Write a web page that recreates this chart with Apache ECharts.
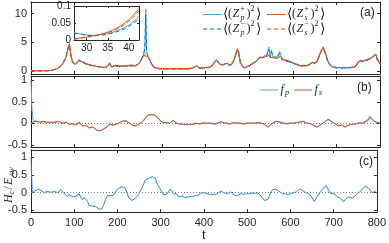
<!DOCTYPE html>
<html>
<head>
<meta charset="utf-8">
<script src="https://cdn.jsdelivr.net/npm/echarts@6/dist/echarts.min.js"></script>
<style>html,body{margin:0;padding:0;background:#fff}#c{width:389px;height:243px}</style>
</head>
<body>
<div id="c"></div>
<script>
// ---------- panel (a) ----------
const tA = [0,10,20,30,40,45,50,55,60,65,
70,75,80,85,88,91,95,100,105,110,
115,120,125,130,140,150,160,170,175,180,
185,190,200,210,220,230,240,245,250,255,
258,261,263,265,268,272,276,280,285,290,
300,310,320,330,340,350,360,370,375,380,
385,390,400,410,415,420,425,430,435,440,
445,450,455,460,465,470,473,476,480,485,
490,500,510,520,525,530,535,540,545,548,
551,555,560,565,570,575,580,590,600,610,
620,630,640,645,650,655,660,665,670,675,
680,685,690,700,710,720,730,740,745,750,
755,760,765,770,775,780,785,790,795,800];
const zpPlus = [0.05,0.05,0.05,0.05,0.07,0.11,0.18,0.28,0.42,0.65,
0.95,1.5,2.3,3.8,4.7,3.1,1.7,1.2,1.3,1.9,
1.7,1.5,1.3,1.2,1.0,0.8,0.7,0.6,0.75,1.2,
0.7,0.85,0.95,0.8,0.85,1.0,0.9,1.1,1.5,2.3,
2.8,4.0,10.8,3.5,2.6,2.1,1.3,0.8,0.55,0.45,
0.4,0.35,0.4,0.35,0.4,0.35,0.4,0.45,0.65,0.9,
0.55,0.5,0.55,0.65,0.85,1.5,1.9,1.4,1.1,1.0,
1.2,1.3,0.95,1.1,1.8,2.9,3.8,3.2,1.5,0.75,
0.55,0.85,1.3,1.9,2.4,2.2,2.7,2.6,4.2,2.5,
3.7,2.4,2.5,2.6,3.4,2.2,1.9,1.7,1.4,1.05,
0.85,0.9,1.1,1.5,1.3,1.5,2.4,3.4,4.1,3.1,
1.8,1.1,0.75,0.6,0.55,0.55,0.6,0.65,0.85,1.5,
1.7,1.6,1.8,1.9,2.0,2.2,2.5,2.9,1.9,1.2];
const zpMinus = [0.05,0.05,0.05,0.05,0.07,0.12,0.2,0.3,0.44,0.68,
1.0,1.55,2.5,3.9,4.5,2.9,1.6,1.3,1.4,1.8,
1.6,1.4,1.25,1.1,0.95,0.8,0.72,0.62,0.85,1.1,
0.75,0.95,0.8,0.85,0.95,0.85,0.95,1.2,1.6,2.4,
2.9,3.9,9.8,3.3,2.5,1.9,1.2,0.75,0.5,0.42,
0.38,0.4,0.36,0.4,0.36,0.4,0.36,0.5,0.75,0.85,
0.5,0.52,0.6,0.7,0.95,1.4,1.8,1.35,1.05,1.1,
1.3,1.2,1.05,1.2,1.9,3.1,3.6,2.9,1.3,0.7,
0.55,0.95,1.4,2.0,2.3,2.4,2.3,2.6,3.8,2.4,
3.4,2.4,2.2,2.3,3.1,2.0,1.8,1.6,1.35,1.15,
0.95,0.85,1.2,1.45,1.4,1.6,2.6,3.5,3.9,2.9,
1.7,1.05,0.7,0.55,0.6,0.55,0.55,0.7,0.95,1.6,
1.8,1.7,1.9,1.8,2.1,2.3,2.6,2.7,1.7,1.15];
const zsPlus = [0.05,0.05,0.05,0.06,0.08,0.12,0.2,0.3,0.45,0.7,
1.0,1.6,2.4,4.0,4.8,3.0,1.6,1.2,1.4,2.0,
1.7,1.6,1.4,1.2,1.0,0.85,0.7,0.6,0.8,1.5,
0.7,0.9,1.0,0.8,0.9,1.1,0.9,1.2,1.6,2.2,
2.7,3.0,2.6,2.8,2.5,2.2,1.4,0.9,0.6,0.5,
0.45,0.4,0.45,0.4,0.45,0.4,0.45,0.5,0.7,1.0,
0.6,0.5,0.6,0.7,0.9,1.6,2.0,1.5,1.2,1.1,
1.3,1.4,1.0,1.2,1.9,3.0,3.9,3.3,1.6,0.8,
0.6,0.9,1.4,2.0,2.5,2.3,2.6,2.5,2.8,2.4,
2.6,2.3,2.5,2.2,2.6,2.3,2.0,1.8,1.5,1.1,
0.9,0.95,1.2,1.6,1.4,1.6,2.5,3.5,4.2,3.2,
1.9,1.2,0.8,0.65,0.6,0.6,0.65,0.7,0.9,1.6,
1.8,1.7,1.9,2.0,2.1,2.3,2.6,3.0,2.0,1.3];
const zsMinus = [0.05,0.05,0.05,0.06,0.09,0.13,0.22,0.32,0.5,0.75,
1.1,1.7,2.6,4.2,4.6,2.8,1.5,1.3,1.5,1.9,
1.6,1.5,1.3,1.1,0.95,0.8,0.75,0.65,0.9,1.3,
0.8,1.0,0.8,0.9,1.0,0.9,1.0,1.3,1.7,2.4,
2.9,2.8,2.7,2.6,2.6,2.0,1.3,0.8,0.55,0.45,
0.4,0.45,0.4,0.45,0.4,0.45,0.4,0.55,0.8,0.9,
0.55,0.55,0.65,0.75,1.0,1.5,1.9,1.4,1.1,1.2,
1.4,1.3,1.1,1.3,2.0,3.2,3.7,3.0,1.4,0.75,
0.6,1.0,1.5,2.1,2.4,2.5,2.4,2.7,2.6,2.5,
2.4,2.5,2.3,2.4,2.5,2.1,1.9,1.7,1.4,1.2,
1.0,0.9,1.3,1.5,1.5,1.7,2.7,3.6,4.0,3.0,
1.8,1.1,0.75,0.6,0.65,0.6,0.6,0.75,1.0,1.7,
1.9,1.8,2.0,1.9,2.2,2.4,2.7,2.8,1.8,1.2];
const ticksA = [0,5,10];

// ---------- inset ----------
const tIn = [27,28,29,30,31,32,33,34,35,36,37,38,39,40,41,42,42.4];
const zpPlusIn = [0.021,0.019,0.017,0.015,0.014,0.014,0.015,0.017,0.019,0.022,0.026,0.031,0.037,0.044,0.053,0.064,0.07];
const zpMinusIn = [0.02,0.018,0.016,0.014,0.013,0.013,0.014,0.015,0.017,0.02,0.024,0.028,0.033,0.04,0.048,0.058,0.064];
const zsPlusIn = [0.003,0.005,0.007,0.009,0.011,0.013,0.016,0.019,0.023,0.028,0.034,0.041,0.05,0.06,0.072,0.086,0.093];
const zsMinusIn = [0.002,0.004,0.006,0.008,0.01,0.012,0.015,0.018,0.021,0.026,0.031,0.038,0.046,0.055,0.066,0.079,0.086];
const ticksInX = [30,35,40];
const ticksInY = [0,0.05,0.1];

// ---------- panel (b) ----------
const tB = [0,2,5,12,20,28,35,45,55,65,
72,80,88,95,102,111,119,126,134,142,
150,157,163,169,175,180,188,196,202,207,
212,218,226,234,241,247,253,258,264,270,
276,283,291,297,303,310,318,326,333,340,
349,356,364,371,379,386,394,402,410,421,
429,437,443,448,456,464,471,479,487,495,
502,510,518,525,532,538,544,549,555,563,
570,578,586,594,601,609,617,624,632,639,
647,655,661,666,674,681,687,693,699,704,
712,720,727,733,739,746,754,760,766,772,
777,781,786,792,796,800];
const fp = [1.0,0.35,0.06,0.05,0.02,0.04,0.02,0.03,0.02,0.05,
0.01,0.03,-0.03,0.0,-0.03,0.03,-0.07,-0.04,-0.11,-0.09,
-0.16,-0.18,-0.15,-0.11,-0.07,-0.01,-0.05,-0.01,0.0,0.04,
0.05,0.06,0.01,-0.06,-0.05,-0.01,0.02,0.07,0.16,0.2,
0.21,0.2,0.12,0.05,0.02,0.01,0.01,0.06,0.0,-0.02,
-0.03,-0.02,-0.03,-0.02,0.01,-0.02,0.0,0.01,0.0,-0.02,
0.0,0.03,0.01,0.0,-0.02,0.01,0.01,0.0,-0.02,0.01,
0.0,0.01,0.01,0.0,-0.01,-0.05,-0.09,-0.04,0.02,0.04,
0.02,0.0,-0.02,0.0,0.01,0.01,0.03,0.04,0.0,-0.01,
-0.05,-0.09,-0.06,-0.02,0.03,0.1,0.05,0.01,-0.03,-0.06,
-0.05,-0.09,-0.05,-0.03,-0.02,0.0,0.02,0.01,0.05,0.09,
0.17,0.12,0.06,0.03,0.0,0.01];
const fs = [0.0,0.01,0.03,0.05,0.03,0.04,0.03,0.02,0.03,0.04,
0.0,0.02,-0.02,-0.01,-0.04,0.01,-0.06,-0.05,-0.1,-0.08,
-0.15,-0.17,-0.16,-0.12,-0.08,-0.02,-0.04,-0.02,0.01,0.03,
0.06,0.05,0.0,-0.05,-0.06,-0.02,0.01,0.06,0.15,0.19,
0.2,0.19,0.13,0.06,0.01,0.02,0.0,0.07,0.01,-0.01,
-0.02,-0.03,-0.02,-0.03,0.0,-0.01,0.01,0.0,0.01,-0.01,
0.01,0.04,0.0,0.01,-0.01,0.02,0.0,0.01,-0.01,0.0,
0.01,0.0,0.02,0.01,0.0,-0.04,-0.08,-0.03,0.01,0.05,
0.03,0.01,-0.01,0.01,0.0,0.02,0.04,0.05,0.01,0.0,
-0.04,-0.08,-0.05,-0.01,0.04,0.09,0.06,0.02,-0.02,-0.05,
-0.04,-0.08,-0.04,-0.02,-0.03,-0.01,0.01,0.0,0.03,0.06,
0.13,0.1,0.05,0.02,0.01,0.0];
const ticksB = [-0.5,0,0.5,1];

// ---------- panel (c) ----------
const tC = [0,1,3,8,16,23,31,36,42,48,
54,62,69,73,77,84,88,92,96,100,
104,107,111,115,119,123,127,131,134,138,
142,146,150,154,157,160,163,166,169,172,
174,177,180,183,186,189,191,194,197,200,
203,207,211,215,218,222,226,230,234,238,
241,245,249,253,257,261,264,268,272,276,
281,285,288,291,295,299,302,306,310,314,
318,322,326,329,333,337,341,345,349,352,
356,360,364,368,371,375,379,383,387,391,
394,398,402,406,410,414,418,422,429,434,
440,446,452,457,462,467,471,475,480,486,
492,498,504,509,513,519,525,529,532,536,
540,544,548,551,555,559,563,566,570,576,
582,588,593,597,603,609,614,619,624,629,
635,640,645,649,652,655,659,662,666,670,
674,678,683,686,689,693,697,701,704,709,
713,716,720,724,728,732,735,739,743,746,
750,754,758,762,766,769,773,777,781,785,
789,793,796,800];
const hc = [1.0,0.6,0.0,0.04,0.09,0.06,0.0,0.03,0.02,0.01,
0.03,0.0,0.08,0.02,-0.03,-0.11,-0.05,-0.07,-0.12,-0.15,
-0.1,-0.12,-0.03,-0.08,-0.2,-0.14,-0.15,-0.25,-0.36,-0.33,
-0.38,-0.36,-0.4,-0.42,-0.46,-0.43,-0.47,-0.4,-0.32,-0.2,
-0.15,-0.09,-0.07,-0.09,-0.11,-0.08,-0.1,-0.02,0.06,0.1,
0.12,0.15,0.17,0.15,0.12,0.0,-0.15,-0.2,-0.22,-0.18,
-0.17,-0.12,-0.06,0.05,0.14,0.25,0.35,0.38,0.4,0.42,
0.45,0.44,0.4,0.27,0.18,0.1,0.02,-0.07,-0.04,-0.05,
0.02,0.1,0.04,-0.03,-0.05,-0.04,-0.12,-0.17,-0.1,-0.12,
-0.14,-0.15,-0.12,-0.13,-0.11,-0.13,-0.09,-0.1,-0.08,-0.04,
0.0,0.02,-0.01,-0.03,-0.04,-0.07,-0.05,-0.06,-0.05,0.0,
0.04,0.0,-0.03,-0.01,0.02,-0.04,-0.01,-0.1,-0.06,-0.03,
-0.05,-0.03,-0.04,-0.01,0.0,-0.02,-0.01,-0.03,-0.1,-0.16,
-0.22,-0.23,-0.19,-0.1,0.02,0.08,0.06,0.1,0.09,0.02,
-0.04,-0.03,-0.06,-0.04,-0.02,0.0,0.02,0.08,0.1,0.05,
0.0,-0.02,-0.06,-0.12,-0.18,-0.25,-0.22,-0.12,-0.04,0.03,
0.1,0.14,0.2,0.15,0.05,-0.03,-0.06,-0.03,-0.08,-0.12,
-0.1,-0.17,-0.14,-0.25,-0.18,-0.2,-0.12,-0.08,-0.16,-0.13,
-0.1,-0.03,-0.08,0.03,0.1,0.13,0.18,0.16,0.12,0.08,
0.0,-0.02,0.03,-0.01];
const ticksC = [-0.5,0,0.5,1];

// ---------- styling ----------
const AX = '#262626';
const BLUE = '#0072BD', LBLUE = '#4DA6E6', CBLUE = '#2B86D2', ORANGE = '#D95319';
const SANS = '"Liberation Sans", Arial, sans-serif';
const SERIF = '"Liberation Serif", "DejaVu Serif", serif';

function pairs(t, v) { return t.map((x, i) => [x, v[i]]); }

function xAx(gi, pos, opts) {
  opts = opts || {};
  return {
    type: 'value', gridIndex: gi, position: pos,
    min: opts.min !== undefined ? opts.min : 0,
    max: opts.max !== undefined ? opts.max : 800,
    interval: opts.custom ? undefined : 100,
    z: opts.z || 0,
    axisLine: {show: true, onZero: false, lineStyle: {color: AX, width: 1}},
    axisTick: {show: true, inside: true, length: opts.tl || 3, lineStyle: {color: AX, width: 1}, customValues: opts.custom},
    splitLine: {show: false},
    axisLabel: {show: !!opts.label, color: AX, fontSize: opts.fs || 11, fontFamily: SANS, margin: opts.margin || 5, customValues: opts.custom},
    name: opts.name || '', nameLocation: 'middle', nameGap: 15,
    nameTextStyle: {color: AX, fontSize: 13, fontFamily: SANS}
  };
}
function yAx(gi, pos, min, max, ticks, label, opts) {
  opts = opts || {};
  return {
    type: 'value', gridIndex: gi, position: pos, min: min, max: max,
    z: opts.z || 0,
    axisLine: {show: true, onZero: false, lineStyle: {color: AX, width: 1}},
    axisTick: {show: true, inside: true, length: opts.tl || 3, lineStyle: {color: AX, width: 1}, customValues: ticks},
    splitLine: {show: false},
    axisLabel: {show: label, color: AX, fontSize: opts.fs || 11, fontFamily: SANS, margin: opts.margin || 4, customValues: ticks}
  };
}
function line(name, xi, yi, data, color, dashed, extra) {
  return Object.assign({
    name: name, type: 'line', xAxisIndex: xi, yAxisIndex: yi, data: data,
    showSymbol: false, symbol: 'none', smooth: false,
    lineStyle: {color: color, width: 1, type: dashed ? [4, 3] : 'solid'},
    itemStyle: {color: color}, z: 2
  }, extra || {});
}
const zeroLine = {
  silent: true, symbol: 'none', label: {show: false},
  lineStyle: {type: [1, 2], color: '#7f7f7f', width: 1},
  data: [{yAxis: 0}]
};

// graphic helpers
function txt(x, y, s, size, italic, fam) {
  return {type: 'text', x: x, y: y, z: 20, silent: true,
    style: {text: s, fontSize: size, fontStyle: italic ? 'italic' : 'normal',
      fontFamily: fam || SERIF, fill: AX, align: 'left', verticalAlign: 'middle'}};
}
function zLabel(x0, y0, sub, sup) {
  return [
    txt(x0, y0, '\u27E8', 14, false, '"DejaVu Serif", serif'),
    txt(x0 + 5, y0, '(', 12),
    txt(x0 + 9.5, y0, 'Z', 12, true),
    txt(x0 + 17.5, y0 - 5, sup, 8),
    txt(x0 + 17.5, y0 + 4, sub, 8, true),
    txt(x0 + 23.5, y0, ')', 12),
    txt(x0 + 27.5, y0 - 5, '2', 8),
    txt(x0 + 33, y0, '\u27E9', 14, false, '"DejaVu Serif", serif')
  ];
}
function seg(x1, x2, y, color, dashed) {
  return {type: 'line', z: 20, silent: true, shape: {x1: x1, y1: y, x2: x2, y2: y},
    style: {stroke: color, lineWidth: 1, lineDash: dashed ? [4, 3] : null}};
}

const graphic = [].concat(
  [seg(203, 222, 14.5, LBLUE, false)], zLabel(223, 14, 'p', '+'),
  [seg(267, 285, 14.5, ORANGE, false)], zLabel(287, 14, 's', '+'),
  [seg(203, 222, 29, BLUE, true)], zLabel(223, 29, 'p', '\u2212'),
  [seg(267, 285, 29, ORANGE, true)], zLabel(287, 29, 's', '\u2212'),
  [txt(360, 13, '(a)', 12, false, SANS)],
  [seg(260, 278, 90, LBLUE, false), txt(280.5, 90, 'f', 12, true), txt(285, 93, 'p', 8, true),
   seg(294, 312, 90, ORANGE, false), txt(314.5, 90, 'f', 12, true), txt(319, 93, 's', 8, true)],
  [txt(357, 88, '(b)', 12, false, SANS)],
  [txt(359, 162, '(c)', 12, false, SANS)],
  [{type: 'group', x: 9, y: 181, rotation: Math.PI / 2, z: 20, children: [
    txt(-22, 0, 'H', 12, true),
    txt(-13, 3, 'c', 8, true),
    txt(-8.5, 0, '/', 12),
    txt(-4, 0, 'E', 12, true),
    txt(4, 3, 'AW', 7, true)
  ]}]
);

const option = {
  animation: false,
  backgroundColor: '#fff',
  grid: [
    {left: 31, right: 9, top: 2, height: 72},
    {left: 31, right: 9, top: 76, height: 71},
    {left: 31, right: 9, top: 150, height: 69},
    {left: 74, width: 65, top: 6, height: 34, show: true, backgroundColor: '#fff', borderWidth: 0, z: 5}
  ],
  xAxis: [
    xAx(0, 'bottom'), xAx(0, 'top'),
    xAx(1, 'bottom'), xAx(1, 'top'),
    xAx(2, 'bottom', {label: true, name: 't'}), xAx(2, 'top'),
    xAx(3, 'bottom', {min: 27, max: 42.4, custom: ticksInX, label: true, fs: 10, margin: 3, z: 6, tl: 2}),
    xAx(3, 'top', {min: 27, max: 42.4, custom: ticksInX, z: 6, tl: 2})
  ],
  yAxis: [
    yAx(0, 'left', -0.5, 12, ticksA, true), yAx(0, 'right', -0.5, 12, ticksA, false),
    yAx(1, 'left', -0.55, 1.1, ticksB, true), yAx(1, 'right', -0.55, 1.1, ticksB, false),
    yAx(2, 'left', -0.55, 1.2, ticksC, true), yAx(2, 'right', -0.55, 1.2, ticksC, false),
    yAx(3, 'left', 0, 0.1, ticksInY, true, {fs: 10, margin: 3, z: 6, tl: 2}),
    yAx(3, 'right', 0, 0.1, ticksInY, false, {z: 6, tl: 2})
  ],
  series: [
    line('Zp+', 0, 0, pairs(tA, zpPlus), LBLUE, false),
    line('Zp-', 0, 0, pairs(tA, zpMinus), BLUE, true),
    line('Zs+', 0, 0, pairs(tA, zsPlus), ORANGE, false),
    line('Zs-', 0, 0, pairs(tA, zsMinus), ORANGE, true),
    line('fp', 2, 2, pairs(tB, fp), LBLUE, false, {markLine: zeroLine}),
    line('fs', 2, 2, pairs(tB, fs), ORANGE, false),
    line('Hc', 4, 4, pairs(tC, hc), CBLUE, false, {markLine: zeroLine}),
    line('Zp+in', 6, 6, pairs(tIn, zpPlusIn), LBLUE, false, {z: 7}),
    line('Zp-in', 6, 6, pairs(tIn, zpMinusIn), BLUE, true, {z: 7}),
    line('Zs+in', 6, 6, pairs(tIn, zsPlusIn), ORANGE, false, {z: 7}),
    line('Zs-in', 6, 6, pairs(tIn, zsMinusIn), ORANGE, true, {z: 7})
  ],
  graphic: graphic
};
const chart = echarts.init(document.getElementById('c'), null, {renderer: 'canvas'});
chart.setOption(option);
</script>
</body>
</html>
